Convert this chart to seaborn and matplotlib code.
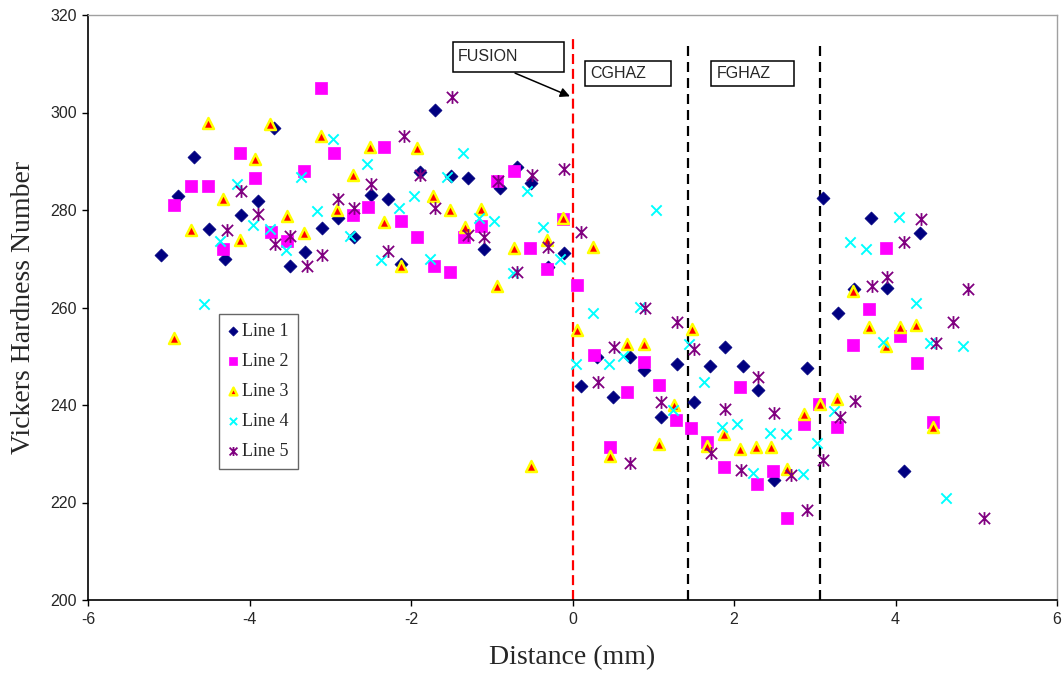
import numpy as np
import pandas as pd
import matplotlib
matplotlib.use("Agg")
import matplotlib.pyplot as plt
from matplotlib.patches import Rectangle
from matplotlib.path import Path
import seaborn as sns

# Hardness traverse data: distance from fusion line (mm) and HV per traverse line
line1_x = [-5.10, -4.89, -4.69, -4.50, -4.30, -4.10, -3.89, -3.70, -3.50, -3.31, -3.10, -2.90,
           -2.70, -2.50, -2.29, -2.12, -1.89, -1.70, -1.50, -1.30, -1.10, -0.90, -0.69, -0.51,
           -0.30, -0.10, 0.11, 0.30, 0.50, 0.71, 0.89, 1.10, 1.30, 1.50, 1.70, 1.89, 2.11, 2.30,
           2.49, 2.90, 3.10, 3.29, 3.49, 3.70, 3.90, 4.10, 4.30]
line1_y = [270.7, 282.8, 290.8, 276.2, 269.9, 278.9, 281.8, 296.8, 268.6, 271.3, 276.4, 278.3,
           274.4, 283.0, 282.2, 269.0, 287.7, 300.5, 286.9, 286.5, 272.1, 284.6, 288.8, 285.5,
           268.4, 271.1, 243.8, 249.9, 241.7, 249.9, 247.2, 237.6, 248.5, 240.7, 248.1, 252.0,
           248.1, 243.1, 224.7, 247.5, 282.4, 258.8, 263.7, 278.3, 264.1, 226.5, 275.2]

line2_x = [-4.93, -4.72, -4.52, -4.33, -4.12, -3.93, -3.73, -3.53, -3.33, -3.12, -2.95, -2.72,
           -2.53, -2.33, -2.13, -1.93, -1.72, -1.52, -1.34, -1.13, -0.93, -0.73, -0.53, -0.32,
           -0.12, 0.05, 0.27, 0.47, 0.67, 0.88, 1.07, 1.28, 1.47, 1.67, 1.87, 2.07, 2.28, 2.48,
           2.66, 2.87, 3.05, 3.27, 3.47, 3.67, 3.88, 4.06, 4.27, 4.47]
line2_y = [281.0, 284.9, 284.9, 271.9, 291.6, 286.5, 275.4, 273.6, 287.9, 305.0, 291.6, 278.9,
           280.7, 292.9, 277.7, 274.4, 268.6, 267.2, 274.4, 276.8, 285.9, 287.9, 272.3, 267.8,
           278.1, 264.7, 250.3, 231.4, 242.7, 248.9, 244.2, 237.0, 235.3, 232.5, 227.3, 243.6,
           223.8, 226.5, 216.8, 236.2, 240.2, 235.5, 252.4, 259.6, 272.3, 254.2, 248.7, 236.6]

line3_x = [-4.93, -4.73, -4.52, -4.33, -4.12, -3.93, -3.74, -3.53, -3.33, -3.12, -2.92, -2.72,
           -2.51, -2.33, -2.12, -1.93, -1.73, -1.52, -1.33, -1.13, -0.93, -0.73, -0.52, -0.32,
           -0.12, 0.06, 0.26, 0.47, 0.67, 0.88, 1.07, 1.26, 1.48, 1.67, 1.87, 2.07, 2.27, 2.46,
           2.66, 2.87, 3.06, 3.27, 3.47, 3.67, 3.88, 4.06, 4.26, 4.47]
line3_y = [253.8, 275.8, 297.8, 282.2, 273.8, 290.4, 297.6, 278.7, 275.2, 295.1, 280.1, 287.1,
           292.9, 277.5, 268.6, 292.7, 282.8, 279.9, 276.6, 280.3, 264.5, 272.3, 227.5, 273.8,
           278.3, 255.3, 272.5, 229.6, 252.6, 252.6, 232.1, 239.9, 255.5, 231.6, 234.1, 231.0,
           231.4, 231.4, 226.9, 238.2, 240.3, 241.3, 263.3, 255.9, 252.2, 256.1, 256.5, 235.5]

line4_x = [-4.56, -4.36, -4.15, -3.96, -3.75, -3.55, -3.36, -3.16, -2.96, -2.75, -2.55, -2.37,
           -2.15, -1.96, -1.76, -1.55, -1.36, -1.16, -0.97, -0.74, -0.56, -0.37, -0.16, 0.04,
           0.25, 0.45, 0.63, 0.84, 1.04, 1.25, 1.44, 1.63, 1.85, 2.04, 2.24, 2.44, 2.64, 2.85,
           3.03, 3.24, 3.44, 3.64, 3.84, 4.04, 4.25, 4.43, 4.63, 4.84]
line4_y = [260.8, 273.6, 285.3, 277.0, 276.2, 271.7, 286.7, 279.7, 294.5, 274.6, 289.4, 269.7,
           280.5, 282.8, 269.9, 286.7, 291.6, 278.3, 277.7, 267.0, 283.8, 276.6, 269.9, 248.5,
           258.8, 248.5, 250.0, 260.2, 280.1, 238.9, 252.6, 244.7, 235.5, 236.1, 226.1, 234.3,
           234.1, 225.9, 232.2, 238.8, 273.5, 272.1, 253.0, 278.5, 261.0, 252.8, 221.0, 252.2]

line5_x = [-4.28, -4.10, -3.89, -3.69, -3.50, -3.29, -3.10, -2.91, -2.70, -2.50, -2.29, -2.09,
           -1.89, -1.70, -1.49, -1.29, -1.10, -0.92, -0.69, -0.50, -0.30, -0.10, 0.10, 0.31,
           0.51, 0.71, 0.90, 1.10, 1.30, 1.50, 1.71, 1.89, 2.09, 2.30, 2.50, 2.70, 2.90, 3.10,
           3.31, 3.50, 3.71, 3.90, 4.10, 4.31, 4.50, 4.71, 4.90, 5.09]
line5_y = [276.0, 283.8, 279.1, 273.1, 274.6, 268.6, 270.7, 282.2, 280.5, 285.3, 271.5, 295.1,
           287.1, 280.5, 303.1, 274.8, 274.4, 285.9, 267.2, 287.1, 272.5, 288.4, 275.5, 244.8,
           251.8, 228.1, 260.0, 240.7, 257.1, 251.4, 230.2, 239.2, 226.7, 245.8, 238.4, 225.7,
           218.5, 228.8, 237.6, 240.9, 264.5, 266.2, 273.4, 278.1, 252.8, 257.1, 263.7, 216.8]

series_names = ["Line 1", "Line 2", "Line 3", "Line 4", "Line 5"]
series_x = [line1_x, line2_x, line3_x, line4_x, line5_x]
series_y = [line1_y, line2_y, line3_y, line4_y, line5_y]

# Zone boundaries (mm)
fusion_x = 0.0
zone_bounds = [1.43, 3.06]
zone_labels = ["CGHAZ", "FGHAZ"]

# Star marker: an X crossed by a vertical stroke
star_path = Path(
    [(-0.7, -0.7), (0.7, 0.7), (-0.7, 0.7), (0.7, -0.7), (0.0, -0.8), (0.0, 0.8)],
    [Path.MOVETO, Path.LINETO, Path.MOVETO, Path.LINETO, Path.MOVETO, Path.LINETO],
)

sns.set_theme(style="white")
plt.rcParams["font.family"] = ["Liberation Sans", "DejaVu Sans"]
plt.rcParams["axes.unicode_minus"] = False

fig = plt.figure(figsize=(10.62, 6.77), dpi=100)
ax = fig.add_axes([88 / 1062, 77 / 677, 969 / 1062, 585 / 677])

styles = [
    dict(marker="D", color="#000080", edgecolor="#000080", s=44, linewidth=0.5),
    dict(marker="s", color="#FF00FF", edgecolor="#FF00FF", s=70, linewidth=0.5),
    dict(marker="^", color="#FF0000", edgecolor="#FFFF00", s=62, linewidth=1.8),
    dict(marker="x", color="#00FFFF", s=55, linewidth=1.4),
    dict(marker=star_path, color="#800080", edgecolor="#800080", s=85, linewidth=1.3),
]

for name, xs, ys, st in zip(series_names, series_x, series_y, styles):
    df = pd.DataFrame({"Distance": xs, "HV": ys})
    sns.scatterplot(data=df, x="Distance", y="HV", ax=ax, label=name, zorder=3, **st)

ax.set_xlim(-6, 6)
ax.set_ylim(200, 320)
ax.set_xticks(np.arange(-6, 7, 2))
ax.set_yticks(np.arange(200, 321, 20))
ax.tick_params(axis="both", which="major", labelsize=11.5, direction="out",
               length=4, width=1, color="black", bottom=True, left=True)
ax.tick_params(axis="x", pad=5)
ax.tick_params(axis="y", pad=4)
for sp in ["left", "bottom"]:
    ax.spines[sp].set_color("black")
    ax.spines[sp].set_linewidth(1.2)
for sp in ["top", "right"]:
    ax.spines[sp].set_color("#A0A0A0")
    ax.spines[sp].set_linewidth(1.0)

ax.set_xlabel("Distance (mm)", family=["Liberation Serif"], fontsize=20, labelpad=13)
ax.set_ylabel("Vickers Hardness Number", family=["Liberation Serif"], fontsize=20, labelpad=10)

# Fusion line and HAZ sub-zone boundaries
ax.plot([fusion_x, fusion_x], [200, 316], color="#FF0000", lw=1.6, ls=(0, (4.5, 2.2)), zorder=2)
for bx in zone_bounds:
    ax.plot([bx, bx], [200, 314.4], color="black", lw=1.6, ls=(0, (4.5, 2.7)), zorder=2)

# Labelled boxes
boxes = [((-1.486, 308.3), 1.375, 6.1), ((0.149, 305.4), 1.065, 5.1), ((1.709, 305.4), 1.04, 5.1)]
for (bx, by), w, h in boxes:
    ax.add_patch(Rectangle((bx, by), w, h, facecolor="white", edgecolor="black", lw=1.1, zorder=4))
ax.text(-1.42, 311.5, "FUSION", fontsize=11.5, va="center", ha="left", zorder=5)
ax.text(0.223, 307.9, zone_labels[0], fontsize=11.5, va="center", ha="left", zorder=5)
ax.text(1.783, 307.9, zone_labels[1], fontsize=11.5, va="center", ha="left", zorder=5)
ax.annotate("", xy=(fusion_x, 303.1), xytext=(-0.743, 308.3),
            arrowprops=dict(arrowstyle="-|>", color="black", lw=1.1, mutation_scale=14), zorder=5)

leg = ax.legend(loc="upper left", bbox_to_anchor=((219 - 88) / 969, 1 - (314 - 15) / 585),
                bbox_transform=ax.transAxes, frameon=True, fancybox=False, markerscale=0.7,
                prop={"family": "Liberation Serif", "size": 13}, handlelength=0.6,
                handletextpad=0.2, labelspacing=0.72, borderpad=0.5, borderaxespad=0)
leg.get_frame().set_edgecolor("#404040")
leg.get_frame().set_linewidth(1.0)

fig.savefig("out.png", dpi=100, facecolor="white")
